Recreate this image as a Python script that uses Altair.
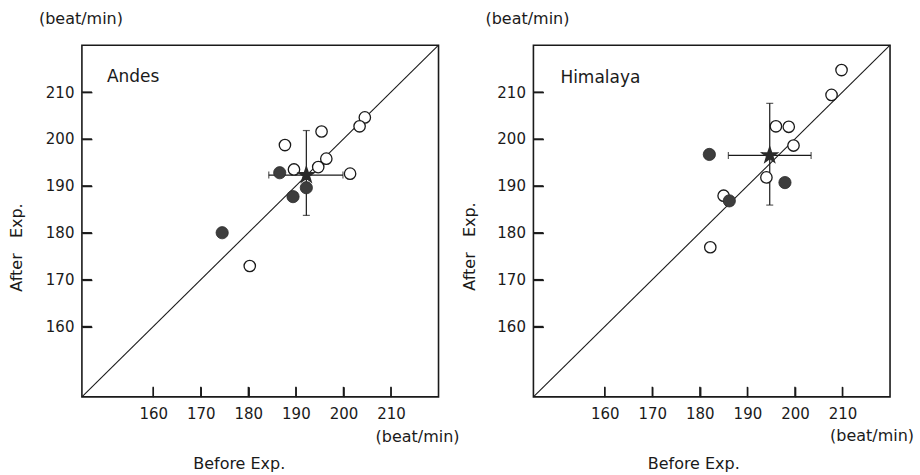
import altair as alt
import pandas as pd

# ---------------- data ----------------
ticks = [160, 170, 180, 190, 200, 210]
domain = [145, 220]

# Andes
andes_open_x = [187.7, 195.4, 204.5, 203.4, 196.4, 194.7, 189.6, 201.4, 180.3]
andes_open_y = [198.7, 201.6, 204.6, 202.7, 195.8, 194.0, 193.5, 192.6, 172.9]
andes_fill_x = [186.6, 192.2, 189.4, 174.5]
andes_fill_y = [192.8, 189.6, 187.7, 180.0]
andes_mean_x = [192.2]
andes_mean_y = [192.3]
andes_x_lo = [184.3]
andes_x_hi = [199.9]
andes_y_lo = [183.7]
andes_y_hi = [201.8]

# Himalaya
him_open_x = [209.8, 207.7, 196.0, 198.7, 199.7, 194.0, 185.0, 182.2]
him_open_y = [214.7, 209.4, 202.7, 202.6, 198.6, 191.8, 187.9, 176.9]
him_fill_x = [182.0, 197.9, 186.2]
him_fill_y = [196.7, 190.7, 186.8]
him_mean_x = [194.7]
him_mean_y = [196.5]
him_x_lo = [186.0]
him_x_hi = [203.4]
him_y_lo = [185.9]
him_y_hi = [207.6]

FONT = "DejaVu Sans"
INK = "#1a1a1a"
STAR = "M0,-1L0.235,-0.324L0.951,-0.309L0.38,0.124L0.588,0.809L0,0.4L-0.588,0.809L-0.38,0.124L-0.951,-0.309L-0.235,-0.324Z"

W, H = 357, 352
TICK = 10


def panel(name, ox, oy, fx, fy, mx, my, xlo, xhi, ylo, yhi,
          name_xy, ytitle_xy, xtitle_xy, unit_top_xy, unit_bot_xy):
    xs = alt.Scale(domain=domain, nice=False, zero=False)
    ys = alt.Scale(domain=domain, nice=False, zero=False)

    # axes pulled TICK px into the plot so that their ticks point inward
    xaxis = alt.Axis(orient="bottom", offset=-TICK, values=ticks, ticks=True,
                     tickSize=TICK, tickWidth=1.4, tickColor=INK, zindex=1,
                     domain=False, grid=False, labelPadding=10,
                     labelFont=FONT, labelFontSize=15, labelColor=INK,
                     title="Before Exp.", titleFont=FONT, titleFontSize=16,
                     titleFontWeight="normal", titleColor=INK,
                     titleX=xtitle_xy[0], titleY=xtitle_xy[1] + TICK,
                     titleBaseline="middle", titleAlign="center")
    yaxis = alt.Axis(orient="left", offset=-TICK, values=ticks, ticks=True,
                     tickSize=TICK, tickWidth=1.4, tickColor=INK, zindex=1,
                     domain=False, grid=False, labelPadding=8,
                     labelFont=FONT, labelFontSize=15, labelColor=INK,
                     title="After\u00a0\u00a0\u00a0Exp.", titleFont=FONT,
                     titleFontSize=16, titleFontWeight="normal", titleColor=INK,
                     titleX=ytitle_xy[0] - TICK, titleY=ytitle_xy[1],
                     titleAngle=-90, titleBaseline="middle", titleAlign="center")

    diag = pd.DataFrame({"x": domain, "y": domain})
    line = alt.Chart(diag).mark_line(color=INK, strokeWidth=1.1).encode(
        x=alt.X("x:Q", scale=xs, axis=xaxis),
        y=alt.Y("y:Q", scale=ys, axis=yaxis),
    )

    # inward frame ticks as short line segments (length TICK px in data units)
    span = domain[1] - domain[0]
    dy = TICK * span / H
    dx = TICK * span / W
    seg_rows = []
    for t in ticks:
        seg_rows += [{"x": float(t), "y": float(domain[0]), "seg": "x%d" % t},
                     {"x": float(t), "y": domain[0] + dy, "seg": "x%d" % t},
                     {"x": float(domain[0]), "y": float(t), "seg": "y%d" % t},
                     {"x": domain[0] + dx, "y": float(t), "seg": "y%d" % t}]
    segs = pd.DataFrame(seg_rows)
    tick_lines = alt.Chart(segs).mark_line(color=INK, strokeWidth=1.4).encode(
        x=alt.X("x:Q", scale=xs), y=alt.Y("y:Q", scale=ys), detail="seg:N")

    err = pd.DataFrame({"mx": mx, "my": my, "xlo": xlo, "xhi": xhi,
                        "ylo": ylo, "yhi": yhi})
    vbar = alt.Chart(err).mark_rule(color=INK, strokeWidth=1.2).encode(
        x=alt.X("mx:Q", scale=xs), y=alt.Y("ylo:Q", scale=ys), y2="yhi:Q")
    hbar = alt.Chart(err).mark_rule(color=INK, strokeWidth=1.2).encode(
        y=alt.Y("my:Q", scale=ys), x=alt.X("xlo:Q", scale=xs), x2="xhi:Q")
    vcap_lo = alt.Chart(err).mark_tick(color=INK, thickness=1.2, size=7,
                                       orient="horizontal").encode(
        x=alt.X("mx:Q", scale=xs), y=alt.Y("ylo:Q", scale=ys))
    vcap_hi = alt.Chart(err).mark_tick(color=INK, thickness=1.2, size=7,
                                       orient="horizontal").encode(
        x=alt.X("mx:Q", scale=xs), y=alt.Y("yhi:Q", scale=ys))
    hcap_lo = alt.Chart(err).mark_tick(color=INK, thickness=1.2, size=7,
                                       orient="vertical").encode(
        x=alt.X("xlo:Q", scale=xs), y=alt.Y("my:Q", scale=ys))
    hcap_hi = alt.Chart(err).mark_tick(color=INK, thickness=1.2, size=7,
                                       orient="vertical").encode(
        x=alt.X("xhi:Q", scale=xs), y=alt.Y("my:Q", scale=ys))

    odf = pd.DataFrame({"x": ox, "y": oy})
    opn = alt.Chart(odf).mark_point(shape="circle", filled=True, fill="white",
                                    stroke=INK, strokeWidth=1.3, size=130,
                                    opacity=1).encode(
        x=alt.X("x:Q", scale=xs), y=alt.Y("y:Q", scale=ys))
    fdf = pd.DataFrame({"x": fx, "y": fy})
    fil = alt.Chart(fdf).mark_point(shape="circle", filled=True, fill="#3d3d3d",
                                    stroke="#2a2a2a", strokeWidth=0.8, size=150,
                                    opacity=1).encode(
        x=alt.X("x:Q", scale=xs), y=alt.Y("y:Q", scale=ys))
    star = alt.Chart(err).mark_point(shape=STAR, filled=True, fill="#2a2a2a",
                                     stroke="#2a2a2a", size=210, opacity=1).encode(
        x=alt.X("mx:Q", scale=xs), y=alt.Y("my:Q", scale=ys))

    lab = pd.DataFrame({"name": [name]})
    label = alt.Chart(lab).mark_text(font=FONT, fontSize=17, color=INK,
                                     align="left", baseline="middle").encode(
        x=alt.value(name_xy[0]), y=alt.value(name_xy[1]), text="name:N")
    u = pd.DataFrame({"unit": ["(beat/min)"]})
    unit_top = alt.Chart(u).mark_text(font=FONT, fontSize=16, color=INK,
                                      align="left", baseline="middle").encode(
        x=alt.value(unit_top_xy[0]), y=alt.value(unit_top_xy[1]), text="unit:N")
    unit_bot = alt.Chart(u).mark_text(font=FONT, fontSize=16, color=INK,
                                      align="left", baseline="middle").encode(
        x=alt.value(unit_bot_xy[0]), y=alt.value(H + unit_bot_xy[1]),
        text="unit:N")

    return alt.layer(line, tick_lines, vbar, hbar, vcap_lo, vcap_hi, hcap_lo,
                     hcap_hi, opn, fil, star, label, unit_top, unit_bot
                     ).properties(width=W, height=H)


left = panel("Andes", andes_open_x, andes_open_y, andes_fill_x, andes_fill_y,
             andes_mean_x, andes_mean_y, andes_x_lo, andes_x_hi, andes_y_lo,
             andes_y_hi, name_xy=(25, 32), ytitle_xy=(-65, 202),
             xtitle_xy=(157, 67), unit_top_xy=(-43, -26), unit_bot_xy=(294, 40))
right = panel("Himalaya", him_open_x, him_open_y, him_fill_x, him_fill_y,
              him_mean_x, him_mean_y, him_x_lo, him_x_hi, him_y_lo, him_y_hi,
              name_xy=(27, 33), ytitle_xy=(-64, 201), xtitle_xy=(160, 67),
              unit_top_xy=(-48, -26), unit_bot_xy=(297, 39))

chart = alt.hconcat(left, right, spacing=95, bounds="flush").properties(
    padding={"left": 8, "top": 10, "right": 5, "bottom": 5},
    background="white",
).configure_view(stroke=INK, strokeWidth=1.6)

chart.save("out.html", embed_options={"renderer": "svg", "actions": False})
